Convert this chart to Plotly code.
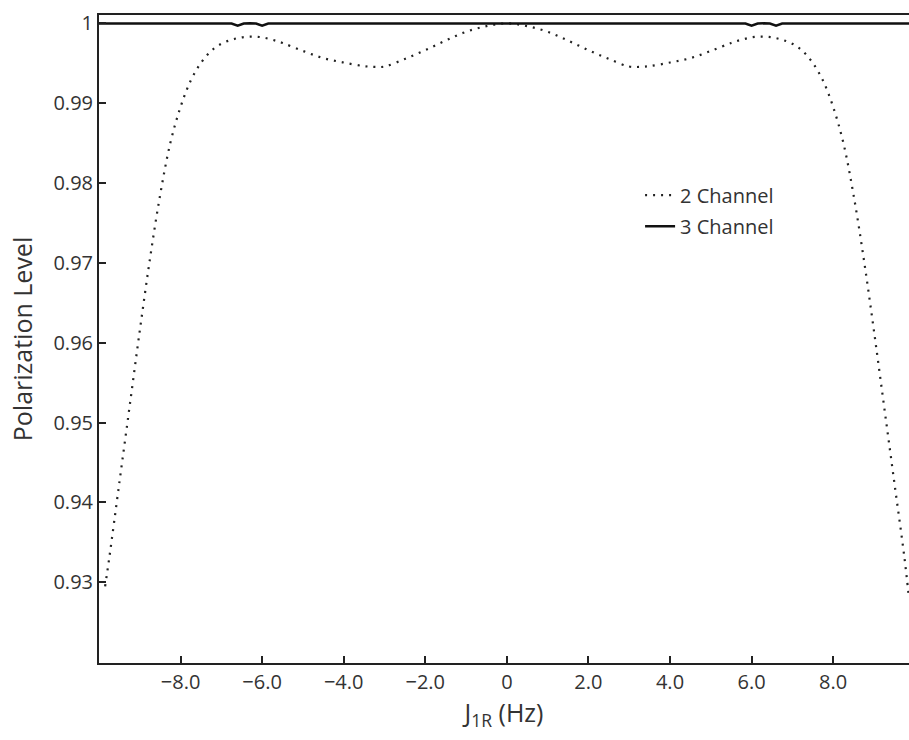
import plotly.graph_objects as go

# 2 Channel curve
x2 = [-9.85, -9.75, -9.5, -9.25, -9.0, -8.75, -8.5, -8.25, -8.0, -7.75, -7.5, -7.25,
      -7.0, -6.75, -6.5, -6.25, -6.0, -5.75, -5.5, -5.0, -4.5, -4.0, -3.5, -3.25,
      -3.0, -2.5, -2.0, -1.5, -1.0, -0.5, 0.0,
      0.5, 1.0, 1.5, 2.0, 2.5, 3.0, 3.25, 3.5, 4.0, 4.5, 5.0, 5.5, 5.75, 6.0,
      6.25, 6.5, 6.75, 7.0, 7.25, 7.5, 7.75, 8.0, 8.25, 8.5, 8.75, 9.0, 9.25,
      9.5, 9.75, 9.86]
y2 = [0.9295, 0.9330, 0.9425, 0.9520, 0.9615, 0.9705, 0.9785, 0.9850, 0.9895, 0.9928, 0.9950, 0.9965,
      0.9974, 0.9979, 0.9982, 0.9983, 0.9982, 0.9979, 0.9975, 0.9965, 0.9956, 0.99505, 0.9946, 0.9945,
      0.99455, 0.9955, 0.9966, 0.9978, 0.9989, 0.9996, 0.99995,
      0.9996, 0.9989, 0.9978, 0.9966, 0.9955, 0.99455, 0.9945, 0.9946, 0.99505, 0.9956, 0.9965, 0.9975, 0.9979, 0.9982,
      0.9983, 0.9982, 0.9979, 0.9974, 0.9965, 0.9950, 0.9928, 0.9895, 0.9850, 0.9785, 0.9705, 0.9615, 0.9520,
      0.9425, 0.9330, 0.9280]

# 3 Channel curve
x3 = [-10.0, -7.0, -6.75, -6.6, -6.45, -6.3, -6.15, -6.0, -5.85, -5.6, 0.0,
      5.6, 5.85, 6.0, 6.15, 6.3, 6.45, 6.6, 6.75, 7.0, 9.86]
y3 = [0.99993, 0.99993, 0.99993, 0.99965, 0.99993, 0.99996, 0.99993, 0.99965, 0.99993, 0.99993, 0.99993,
      0.99993, 0.99993, 0.99965, 0.99993, 0.99996, 0.99993, 0.99965, 0.99993, 0.99993, 0.99993]

xtick_vals = [-8, -6, -4, -2, 0, 2, 4, 6, 8]
xtick_text = ["\u22128.0", "\u22126.0", "\u22124.0", "\u22122.0", "0", "2.0", "4.0", "6.0", "8.0"]
ytick_vals = [0.93, 0.94, 0.95, 0.96, 0.97, 0.98, 0.99, 1.0]
ytick_text = ["0.93", "0.94", "0.95", "0.96", "0.97", "0.98", "0.99", "1"]

FONT = "Open Sans"

fig = go.Figure()
fig.add_trace(go.Scatter(x=x2, y=y2, mode="lines", name="2 Channel", legendgroup="a",
                         hoverinfo="skip",
                         line=dict(color="#222222", width=2.2, dash="2px,6px", shape="spline")))
fig.add_trace(go.Scatter(x=x3, y=y3, mode="lines", name="3 Channel", legendgroup="b",
                         hoverinfo="skip",
                         line=dict(color="#111111", width=2.5)))

fig.update_layout(
    width=909, height=740,
    margin=dict(l=99, r=0, t=15, b=77),
    paper_bgcolor="white", plot_bgcolor="white",
    font=dict(family=FONT, size=20, color="#333333"),
    showlegend=True,
    hovermode=False,
    legend=dict(x=0.668, y=0.752, xanchor="left", yanchor="top",
                bgcolor="rgba(0,0,0,0)", font=dict(size=20, color="#333333"),
                tracegroupgap=2),
    xaxis=dict(range=[-10, 9.86], tickvals=xtick_vals, ticktext=xtick_text,
               showline=True, linecolor="#222222", linewidth=2, mirror=True,
               ticks="inside", ticklen=7, tickwidth=2, tickcolor="#222222",
               showgrid=False, zeroline=False, automargin=False,
               title=dict(text="J<sub>1R</sub> (Hz)", font=dict(size=25), standoff=4)),
    yaxis=dict(range=[0.9199, 1.001], tickvals=ytick_vals, ticktext=ytick_text,
               showline=True, linecolor="#222222", linewidth=2,
               ticks="inside", ticklen=7, tickwidth=2, tickcolor="#222222",
               showgrid=False, zeroline=False, automargin=False,
               title=dict(text="Polarization Level", font=dict(size=25), standoff=14)),
)

fig.write_html("out.html", config={"displayModeBar": False},
               post_script="document.body.style.margin='0';document.body.style.overflow='hidden';")
